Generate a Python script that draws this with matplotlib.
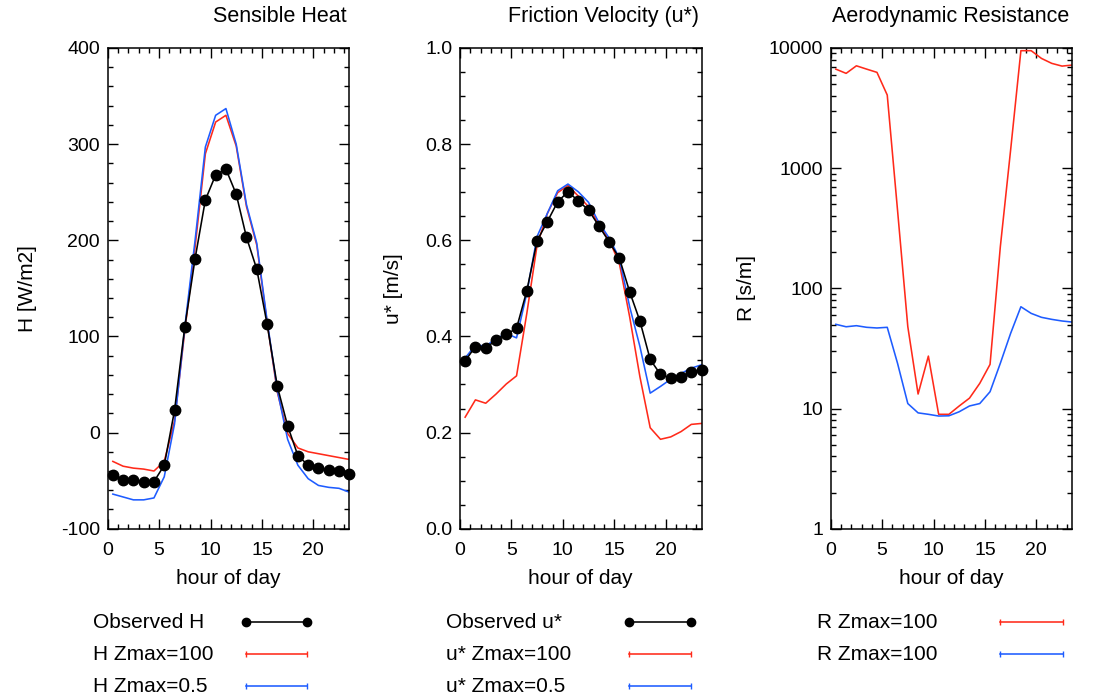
import numpy as np
import matplotlib
matplotlib.use('Agg')
import matplotlib.pyplot as plt
from matplotlib.ticker import MultipleLocator, LogLocator, FixedLocator, NullFormatter

plt.rcParams['font.family'] = ['Liberation Sans', 'DejaVu Sans']
plt.rcParams['axes.unicode_minus'] = False

hours = np.arange(24) + 0.5

H_obs = [-44, -49, -49, -51, -51, -34, 23, 110, 181, 242, 268, 274,
         248, 203, 170, 113, 48, 7, -24, -34, -37, -39, -40, -43]
H_z100 = [-30, -35, -37, -38, -40, -30, 12, 106, 193, 290, 323, 330,
          298, 235, 195, 115, 42, -1, -16, -20, -22, -24, -26, -28]
H_z05 = [-64, -67, -70, -70, -68, -46, 9, 110, 200, 297, 330, 337,
         300, 237, 197, 117, 44, -7, -34, -48, -55, -57, -58, -62]

u_obs = [0.349, 0.379, 0.375, 0.393, 0.404, 0.417, 0.495, 0.599, 0.639, 0.680, 0.701, 0.682,
         0.663, 0.630, 0.597, 0.563, 0.493, 0.432, 0.352, 0.321, 0.313, 0.316, 0.327, 0.330]
u_z100 = [0.232, 0.268, 0.261, 0.280, 0.301, 0.318, 0.448, 0.590, 0.656, 0.699, 0.714, 0.692,
          0.670, 0.633, 0.601, 0.552, 0.441, 0.316, 0.210, 0.186, 0.191, 0.202, 0.217, 0.219]
u_z05 = [0.355, 0.382, 0.380, 0.395, 0.406, 0.397, 0.490, 0.608, 0.656, 0.703, 0.717, 0.701,
         0.679, 0.637, 0.605, 0.563, 0.462, 0.379, 0.282, 0.296, 0.311, 0.323, 0.334, 0.341]

R_z100 = [6670, 6150, 7110, 6670, 6270, 4060, 448, 48, 13.2, 27.3, 8.95, 8.95,
          10.5, 12.2, 16.2, 23.3, 222, 1415, 9500, 9500, 8190, 7450, 7070, 7210]
R_z05 = [50.2, 47.9, 48.9, 47.4, 46.8, 47.4, 23.8, 11.0, 9.2, 8.95, 8.66, 8.7,
         9.4, 10.5, 11.0, 13.8, 23.8, 42.2, 70.3, 61.9, 57.4, 55.2, 53.5, 52.4]

H_labels = ['Observed H', 'H Zmax=100', 'H Zmax=0.5']
u_labels = ['Observed u*', 'u* Zmax=100', 'u* Zmax=0.5']
R_labels = ['R Zmax=100', 'R Zmax=100']

RED = '#ff2a1a'
BLUE = '#1e5cff'
LW = 1.15

fig = plt.figure(figsize=(10.96, 6.98), dpi=100)
W, Hh = 1096.0, 698.0
lefts = [107.7, 460.0, 830.7]
width = 241.6
top, bottom = 48.0, 528.7
axh = bottom - top
axes = [fig.add_axes([l / W, 1 - bottom / Hh, width / W, axh / Hh]) for l in lefts]


def style(ax, title):
    ax.tick_params(which='both', direction='in', top=True, right=True, labelsize=14,
                   width=1, color='black')
    ax.tick_params(which='major', length=7)
    ax.tick_params(which='minor', length=3.8)
    ax.tick_params(axis='y', pad=5.5)
    ax.tick_params(axis='x', pad=9.5)
    for s in ax.spines.values():
        s.set_linewidth(1.1)
    ax.set_xlim(0, 23.5)
    ax.xaxis.set_major_locator(MultipleLocator(5))
    ax.xaxis.set_minor_locator(MultipleLocator(1))
    ax.set_xlabel('hour of day', fontsize=15, labelpad=7)
    t = ax.set_title(title, loc='right', fontsize=15.5, pad=19)
    t.set_x(0.988)


def legend_rows(ax, labels, styles, text_x, line_x0, line_x1):
    # IDL style legend: label on the left, sample line on the right
    rows_y = [622, 654, 686]
    for lab, st, py in zip(labels, styles, rows_y):
        ya = (bottom - py) / axh
        ax.text(text_x, ya, lab, transform=ax.transAxes, fontsize=15,
                ha='left', va='center')
        ax.plot([line_x0, line_x1], [ya, ya], transform=ax.transAxes, clip_on=False, **st)


def ax_x(px, left):
    return (px - left) / width


obs_style = dict(color='black', lw=LW, marker='o', ms=6)
red_style = dict(color=RED, lw=LW, marker='|', ms=4, mec=RED)
blue_style = dict(color=BLUE, lw=LW, marker='|', ms=4, mec=BLUE)

ax1, ax2, ax3 = axes

# sensible heat
style(ax1, 'Sensible Heat')
ax1.plot(hours, H_obs, color='black', lw=LW, marker='o', ms=7.5, clip_on=False, zorder=3)
ax1.plot(hours, H_z100, color=RED, lw=LW)
ax1.plot(hours, H_z05, color=BLUE, lw=LW)
ax1.set_ylim(-100, 400)
ax1.yaxis.set_major_locator(MultipleLocator(100))
ax1.yaxis.set_minor_locator(MultipleLocator(20))
ax1.set_ylabel('H [W/m2]', fontsize=15)
ax1.yaxis.set_label_coords(-0.294, 0.5)
legend_rows(ax1, H_labels, [obs_style, red_style, blue_style],
            ax_x(93, lefts[0]), ax_x(246, lefts[0]), ax_x(307, lefts[0]))

# friction velocity
style(ax2, 'Friction Velocity (u*)')
ax2.plot(hours, u_obs, color='black', lw=LW, marker='o', ms=7.5, clip_on=False, zorder=3)
ax2.plot(hours, u_z100, color=RED, lw=LW)
ax2.plot(hours, u_z05, color=BLUE, lw=LW)
ax2.set_ylim(0, 1)
ax2.yaxis.set_major_locator(MultipleLocator(0.2))
ax2.yaxis.set_minor_locator(MultipleLocator(0.05))
ax2.yaxis.set_major_formatter(matplotlib.ticker.FormatStrFormatter('%.1f'))
ax2.set_ylabel('u* [m/s]', fontsize=15)
ax2.yaxis.set_label_coords(-0.236, 0.5)
legend_rows(ax2, u_labels, [obs_style, red_style, blue_style],
            ax_x(446, lefts[1]), ax_x(629, lefts[1]), ax_x(691, lefts[1]))

# aerodynamic resistance
style(ax3, 'Aerodynamic Resistance')
ax3.plot(hours, R_z100, color=RED, lw=LW)
ax3.plot(hours, R_z05, color=BLUE, lw=LW)
ax3.set_yscale('log')
ax3.set_ylim(1, 10000)
ax3.yaxis.set_major_locator(FixedLocator([1, 10, 100, 1000, 10000]))
ax3.yaxis.set_major_formatter(matplotlib.ticker.FuncFormatter(lambda v, p: '%d' % round(v)))
ax3.yaxis.set_minor_locator(LogLocator(base=10, subs=np.arange(2, 10)))
ax3.yaxis.set_minor_formatter(NullFormatter())
ax3.set_ylabel('R [s/m]', fontsize=15)
ax3.yaxis.set_label_coords(-0.31, 0.5)
legend_rows(ax3, R_labels, [red_style, blue_style],
            ax_x(817, lefts[2]), ax_x(1000, lefts[2]), ax_x(1063, lefts[2]))

fig.savefig('out.png', dpi=100)
